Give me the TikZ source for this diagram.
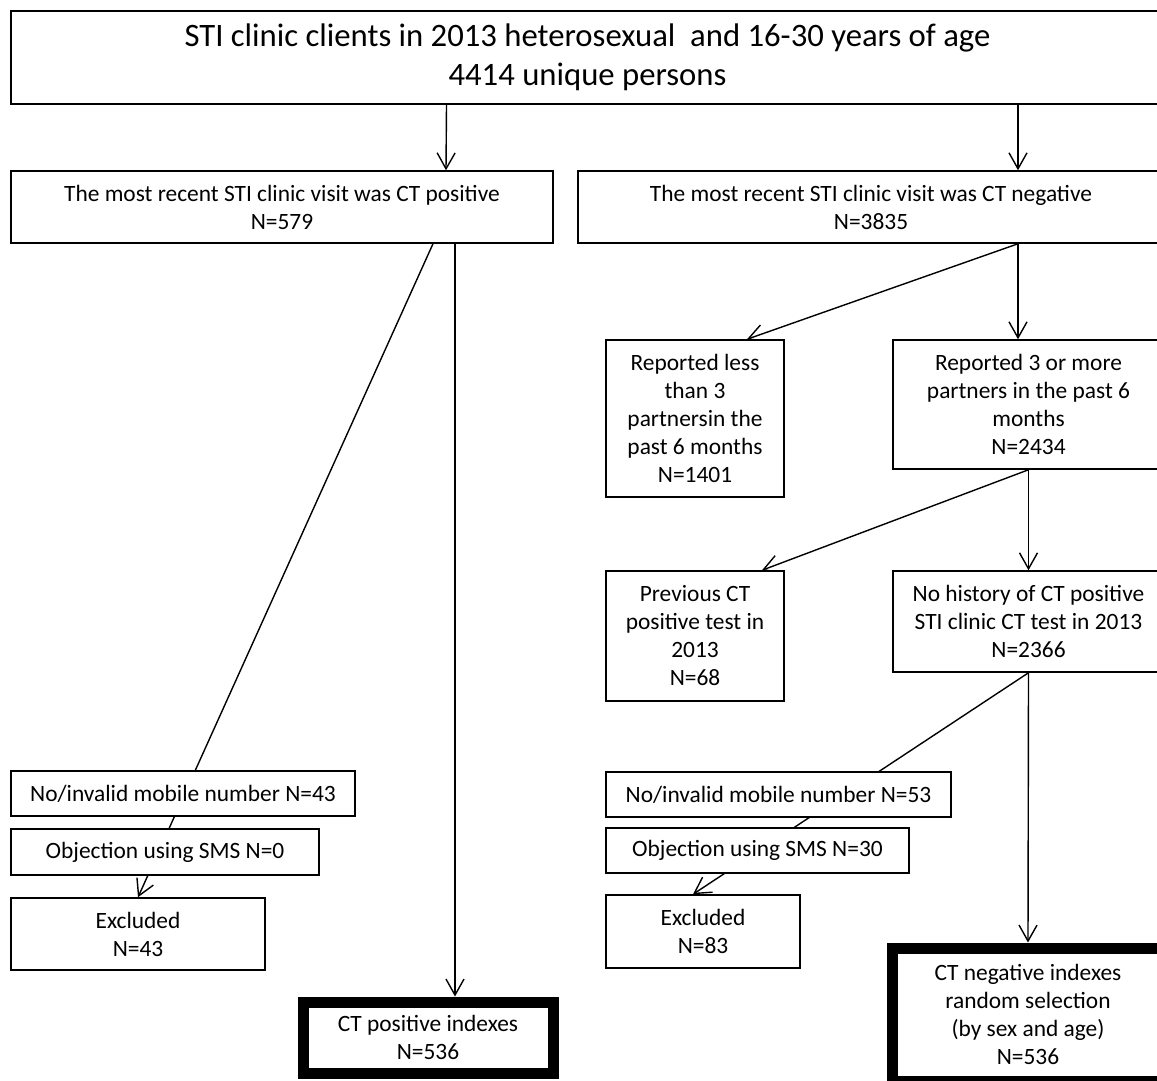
\documentclass[tikz,border=0pt]{standalone}
\usepackage{fontspec}
\setmainfont{Carlito}
\usetikzlibrary{arrows.meta,backgrounds}
\begin{document}
\begin{tikzpicture}[x=1pt,y=-1pt,
  box/.style={draw, line width=1.5pt, fill=white, inner sep=0pt, align=center,
    font=\fontsize{23.4}{28}\selectfont},
  heavybox/.style={box, line width=11pt},
  arr/.style={line width=1.4pt, -{Straight Barb[length=16pt,width=18pt,line width=1.4pt]}},
  ln/.style={line width=1.4pt}]
\useasboundingbox (0,0) rectangle (1157,1080);
\clip (0,0) rectangle (1157,1080);
\node[box, minimum width=1153pt, minimum height=93pt, font=\fontsize{32.7}{39}\selectfont] (top) at (587.5,57.5)
  {STI clinic clients in 2013 heterosexual\ \ and 16-30 years of age\\4414 unique persons};
\node[box, minimum width=542pt, minimum height=72pt] (pos) at (282,207)
  {The most recent STI clinic visit was CT positive\\N=579};
\node[box, minimum width=586pt, minimum height=72pt] (neg) at (871,207)
  {The most recent STI clinic visit was CT negative\\N=3835};
\node[box, minimum width=178pt, minimum height=157pt] (repL) at (695,418.5)
  {Reported less\\than 3\\partnersin the\\past 6 months\\N=1401};
\node[box, minimum width=271pt, minimum height=129pt] (rep3) at (1028.5,404.5)
  {Reported 3 or more\\partners in the past 6\\months\\N=2434};
\node[box, minimum width=178pt, minimum height=130pt] (prev) at (695,636)
  {Previous CT\\positive test in\\2013\\N=68};
\node[box, minimum width=271pt, minimum height=101pt] (nohist) at (1028.5,621.5)
  {No history of CT positive\\STI clinic CT test in 2013\\N=2366};
\node[box, minimum width=344pt, minimum height=45pt] (noinvL) at (183,793.5)
  {No/invalid mobile number N=43};
\node[box, minimum width=308pt, minimum height=46pt] (objL) at (165,852)
  {Objection using SMS N=0};
\node[box, minimum width=254pt, minimum height=72pt] (exclL) at (138,934)
  {Excluded\\N=43};
\node[heavybox, minimum width=250pt, minimum height=71pt] (ctpos) at (428,1037.5)
  {CT positive indexes\\N=536};
\node[box, minimum width=345pt, minimum height=45pt] (noinvR) at (778.5,794.5)
  {No/invalid mobile number N=53};
\node[box, minimum width=303pt, minimum height=45pt] (objR) at (757.5,850.5)
  {Objection using SMS N=30};
\node[box, minimum width=194pt, minimum height=73pt] (exclR) at (703,931.5)
  {Excluded\\N=83};
\node[heavybox, minimum width=272pt, minimum height=133pt] (ctneg) at (1028,1014.5)
  {CT negative indexes\\random selection\\(by sex and age)\\N=536};
\begin{scope}[on background layer]
\draw[arr] ([xshift=-141pt]top.south) -- ([xshift=164pt]pos.north);
\draw[arr] ([xshift=430.5pt]top.south) -- ([xshift=147pt]neg.north);
\draw[arr] ([xshift=151pt]pos.south) -- (exclL.north);
\draw[arr] ([xshift=173pt]pos.south) -- ([xshift=27pt]ctpos.north);
\draw[arr] ([xshift=147pt]neg.south) -- ([xshift=52pt]repL.north);
\draw[arr] ([xshift=147pt]neg.south) -- ([xshift=-10.5pt]rep3.north);
\draw[arr] (rep3.south) -- ([xshift=67pt]prev.north);
\draw[arr] (rep3.south) -- (nohist.north);
\draw[arr] (nohist.south) -- ([xshift=-10pt]exclR.north);
\draw[arr] (nohist.south) -- (ctneg.north);
\end{scope}
\end{tikzpicture}
\end{document}
